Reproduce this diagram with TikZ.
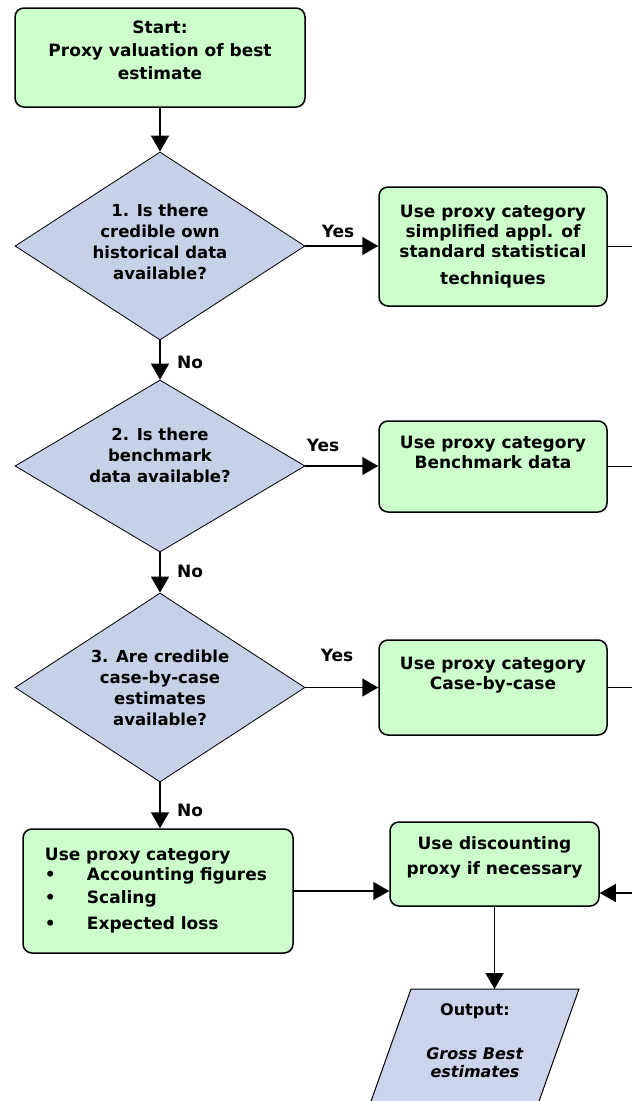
\documentclass[tikz,border=0pt]{standalone}
\usepackage{fontspec}
\setmainfont{DejaVu Sans}
\usetikzlibrary{shapes.geometric,arrows.meta}
\definecolor{procgreen}{RGB}{204,255,204}
\definecolor{decblue}{RGB}{198,208,230}
\definecolor{outblue}{RGB}{204,212,236}
\begin{document}
\begin{tikzpicture}[x=1pt, y=-1pt,
        txt/.style={font=\bfseries\fontsize{17}{20}\selectfont},
        procbox/.style={txt, draw, line width=1.5pt, fill=procgreen, rounded corners=9pt, align=center, inner sep=0pt},
        decision/.style={diamond, draw, line width=0.8pt, fill=decblue, aspect=1.6, inner sep=0pt, align=center,
            font=\bfseries\fontsize{16.5}{21}\selectfont, minimum width=290pt},
        conn/.style={line width=1.5pt, -{Triangle[width=18pt,length=16pt]}},
        edgeline/.style={line width=1.5pt}]
        \useasboundingbox (0,0) rectangle (632,1101);
        % left column
        \node[procbox, minimum width=290pt, minimum height=99pt] (start) at (160,57.5)
            {Start:\\[3pt]Proxy valuation of best\\[3pt]estimate\\[-5pt]~};
        \node[decision, minimum height=188pt] (d1) at (160,246)
            {1. Is there\\credible own\\historical data\\available?\\[-12pt]~};
        \node[decision, minimum height=172pt] (d2) at (160,466)
            {2. Is there\\benchmark\\data available?\\[0pt]~};
        \node[decision, minimum height=189pt] (d3) at (160,687.5)
            {3. Are credible\\case-by-case\\estimates\\available?};
        \node[procbox, minimum width=270pt, minimum height=124pt, inner xsep=22pt, text width=226pt, align=left] (b4) at (158,891)
            {Use proxy category\\
             \makebox[42pt][l]{\textbullet}Accounting figures\\[3pt]
             \makebox[42pt][l]{\textbullet}Scaling\\[6pt]
             \makebox[42pt][l]{\textbullet}Expected loss};
        % right column
        \node[procbox, minimum width=228pt, minimum height=119pt] (b1) at (493,246.5)
            {Use proxy category\\simplified appl. of\\standard statistical\\[7pt]techniques};
        \node[procbox, minimum width=228pt, minimum height=91pt] (b2) at (493,466.5)
            {Use proxy category\\Benchmark data\\[9pt]~};
        \node[procbox, minimum width=228pt, minimum height=95pt] (b3) at (493,687.5)
            {Use proxy category\\Case-by-case\\[9pt]~};
        \node[procbox, minimum width=209pt, minimum height=84pt] (disc) at (494.5,864)
            {Use discounting\\[5pt]proxy if necessary\\[-3pt]~};
        % output
        \draw[line width=1pt, fill=outblue] (411,989) -- (579,989) -- (538,1104) -- (370,1104) -- cycle;
        \coordinate (outtop) at (494.5,989);
        \node[font=\bfseries\fontsize{16}{18}\selectfont, align=center] (out) at (475,1041)
            {Output:\\[26pt]\textit{Gross Best}\\\textit{estimates}};
        % edge of picture
        \coordinate (e1) at (632,246.5);
        \coordinate (e2) at (632,466.5);
        \coordinate (e3) at (632,687.5);
        \coordinate (e4) at (632,893);
        % connectors
        \draw[conn] (start.south) -- (d1.north);
        \draw[conn] (d1.south) -- (d2.north);
        \draw[conn] (d2.south) -- (d3.north);
        \draw[conn] (d3.south) -- (d3.south |- b4.north);
        \draw[conn] (d1.east) -- (d1.east -| b1.west);
        \draw[conn] (d2.east) -- (d2.east -| b2.west);
        \draw[conn] (d3.east) -- (d3.east -| b3.west);
        \draw[edgeline] (b1.east) -- (e1);
        \draw[edgeline] (b2.east) -- (e2);
        \draw[edgeline] (b3.east) -- (e3);
        \draw[conn] (b4.east) -- (b4.east -| disc.west);
        \draw[conn] (e4) -- (e4 -| disc.east);
        \draw[conn] (disc.south) -- (outtop);
        % labels
        \node[txt] (yes1) at (338,231) {Yes};
        \node[txt] (yes2) at (323,445) {Yes};
        \node[txt] (yes3) at (337,655) {Yes};
        \node[txt] (no1) at (190,362) {No};
        \node[txt] (no2) at (190,571) {No};
        \node[txt] (no3) at (190,810) {No};
\end{tikzpicture}
\end{document}
